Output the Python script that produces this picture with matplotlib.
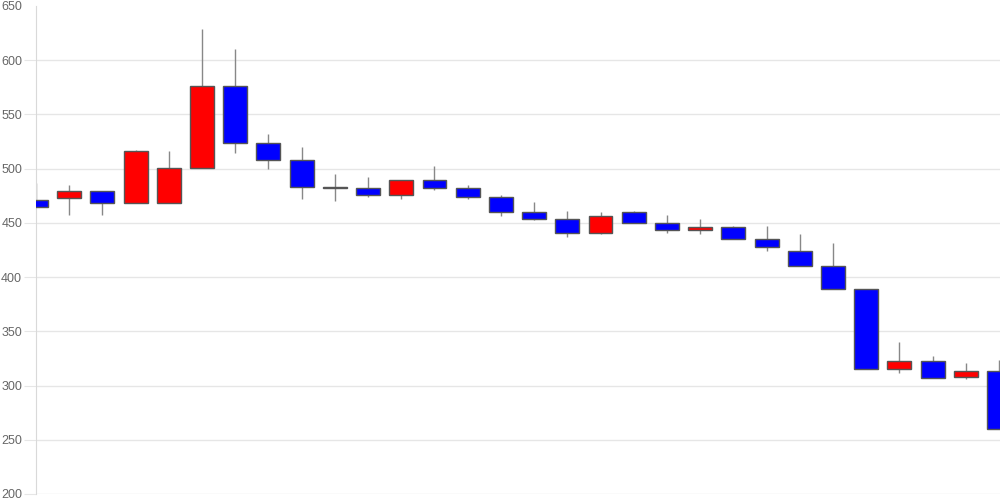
import matplotlib
matplotlib.use("Agg")
import matplotlib.pyplot as plt
import numpy as np

# daily candles, oldest first
opens  = [471, 473, 479, 468, 468, 501, 576, 524, 508, 483, 482, 476, 490, 482, 474,
          460, 454, 441, 460, 450, 443, 446, 435, 424, 410, 389, 315, 323, 308, 313]
closes = [465, 479, 468, 516, 501, 576, 524, 508, 483, 482, 476, 490, 482, 474, 460,
          454, 441, 456, 450, 443, 446, 435, 428, 410, 389, 315, 323, 307, 313, 260]
highs  = [487, 485, 479, 517, 516, 629, 610, 532, 520, 495, 492, 490, 502, 485, 476,
          469, 461, 460, 461, 457, 454, 447, 447, 440, 431, 389, 340, 327, 321, 324]
lows   = [465, 457, 457, 468, 468, 501, 514, 500, 472, 470, 474, 472, 480, 472, 456,
          453, 437, 440, 450, 441, 440, 435, 424, 410, 389, 315, 312, 307, 306, 260]
yticks = [200, 250, 300, 350, 400, 450, 500, 550, 600, 650]

plt.rcParams["font.family"] = ["Liberation Sans", "DejaVu Sans"]

fig = plt.figure(figsize=(10, 5), dpi=100)
ax = fig.add_axes([0.036, 0.012, 0.964, 0.976])

x = np.arange(len(opens))
o = np.array(opens, dtype=float)
c = np.array(closes, dtype=float)
up = c > o
colors = np.where(up, "#ff0000", "#0000ff")
bottoms = np.minimum(o, c)
heights = np.maximum(np.abs(c - o), 0.3)

ax.vlines(x, lows, highs, color="#888888", linewidth=1, zorder=2)
ax.bar(x, heights, bottom=bottoms, width=0.72, color=colors,
       edgecolor="#555555", linewidth=1, zorder=3)

ax.set_xlim(0, 29.03)
ax.set_ylim(200, 650)
ax.set_yticks(yticks)
ax.set_xticks([])
ax.grid(axis="y", color="#e6e6e6", linewidth=1, zorder=0)
ax.set_axisbelow(True)

for s in ["top", "right", "bottom"]:
    ax.spines[s].set_visible(False)
ax.spines["left"].set_color("#d9d9d9")
ax.tick_params(axis="y", length=9, color="#e6e6e6", labelcolor="#666666",
               labelsize=9, pad=1)

# top value has no grid line or tick mark
top_tick = ax.yaxis.get_major_ticks()[-1]
top_tick.gridline.set_visible(False)
top_tick.tick1line.set_visible(False)

fig.savefig("out.png", dpi=100)
